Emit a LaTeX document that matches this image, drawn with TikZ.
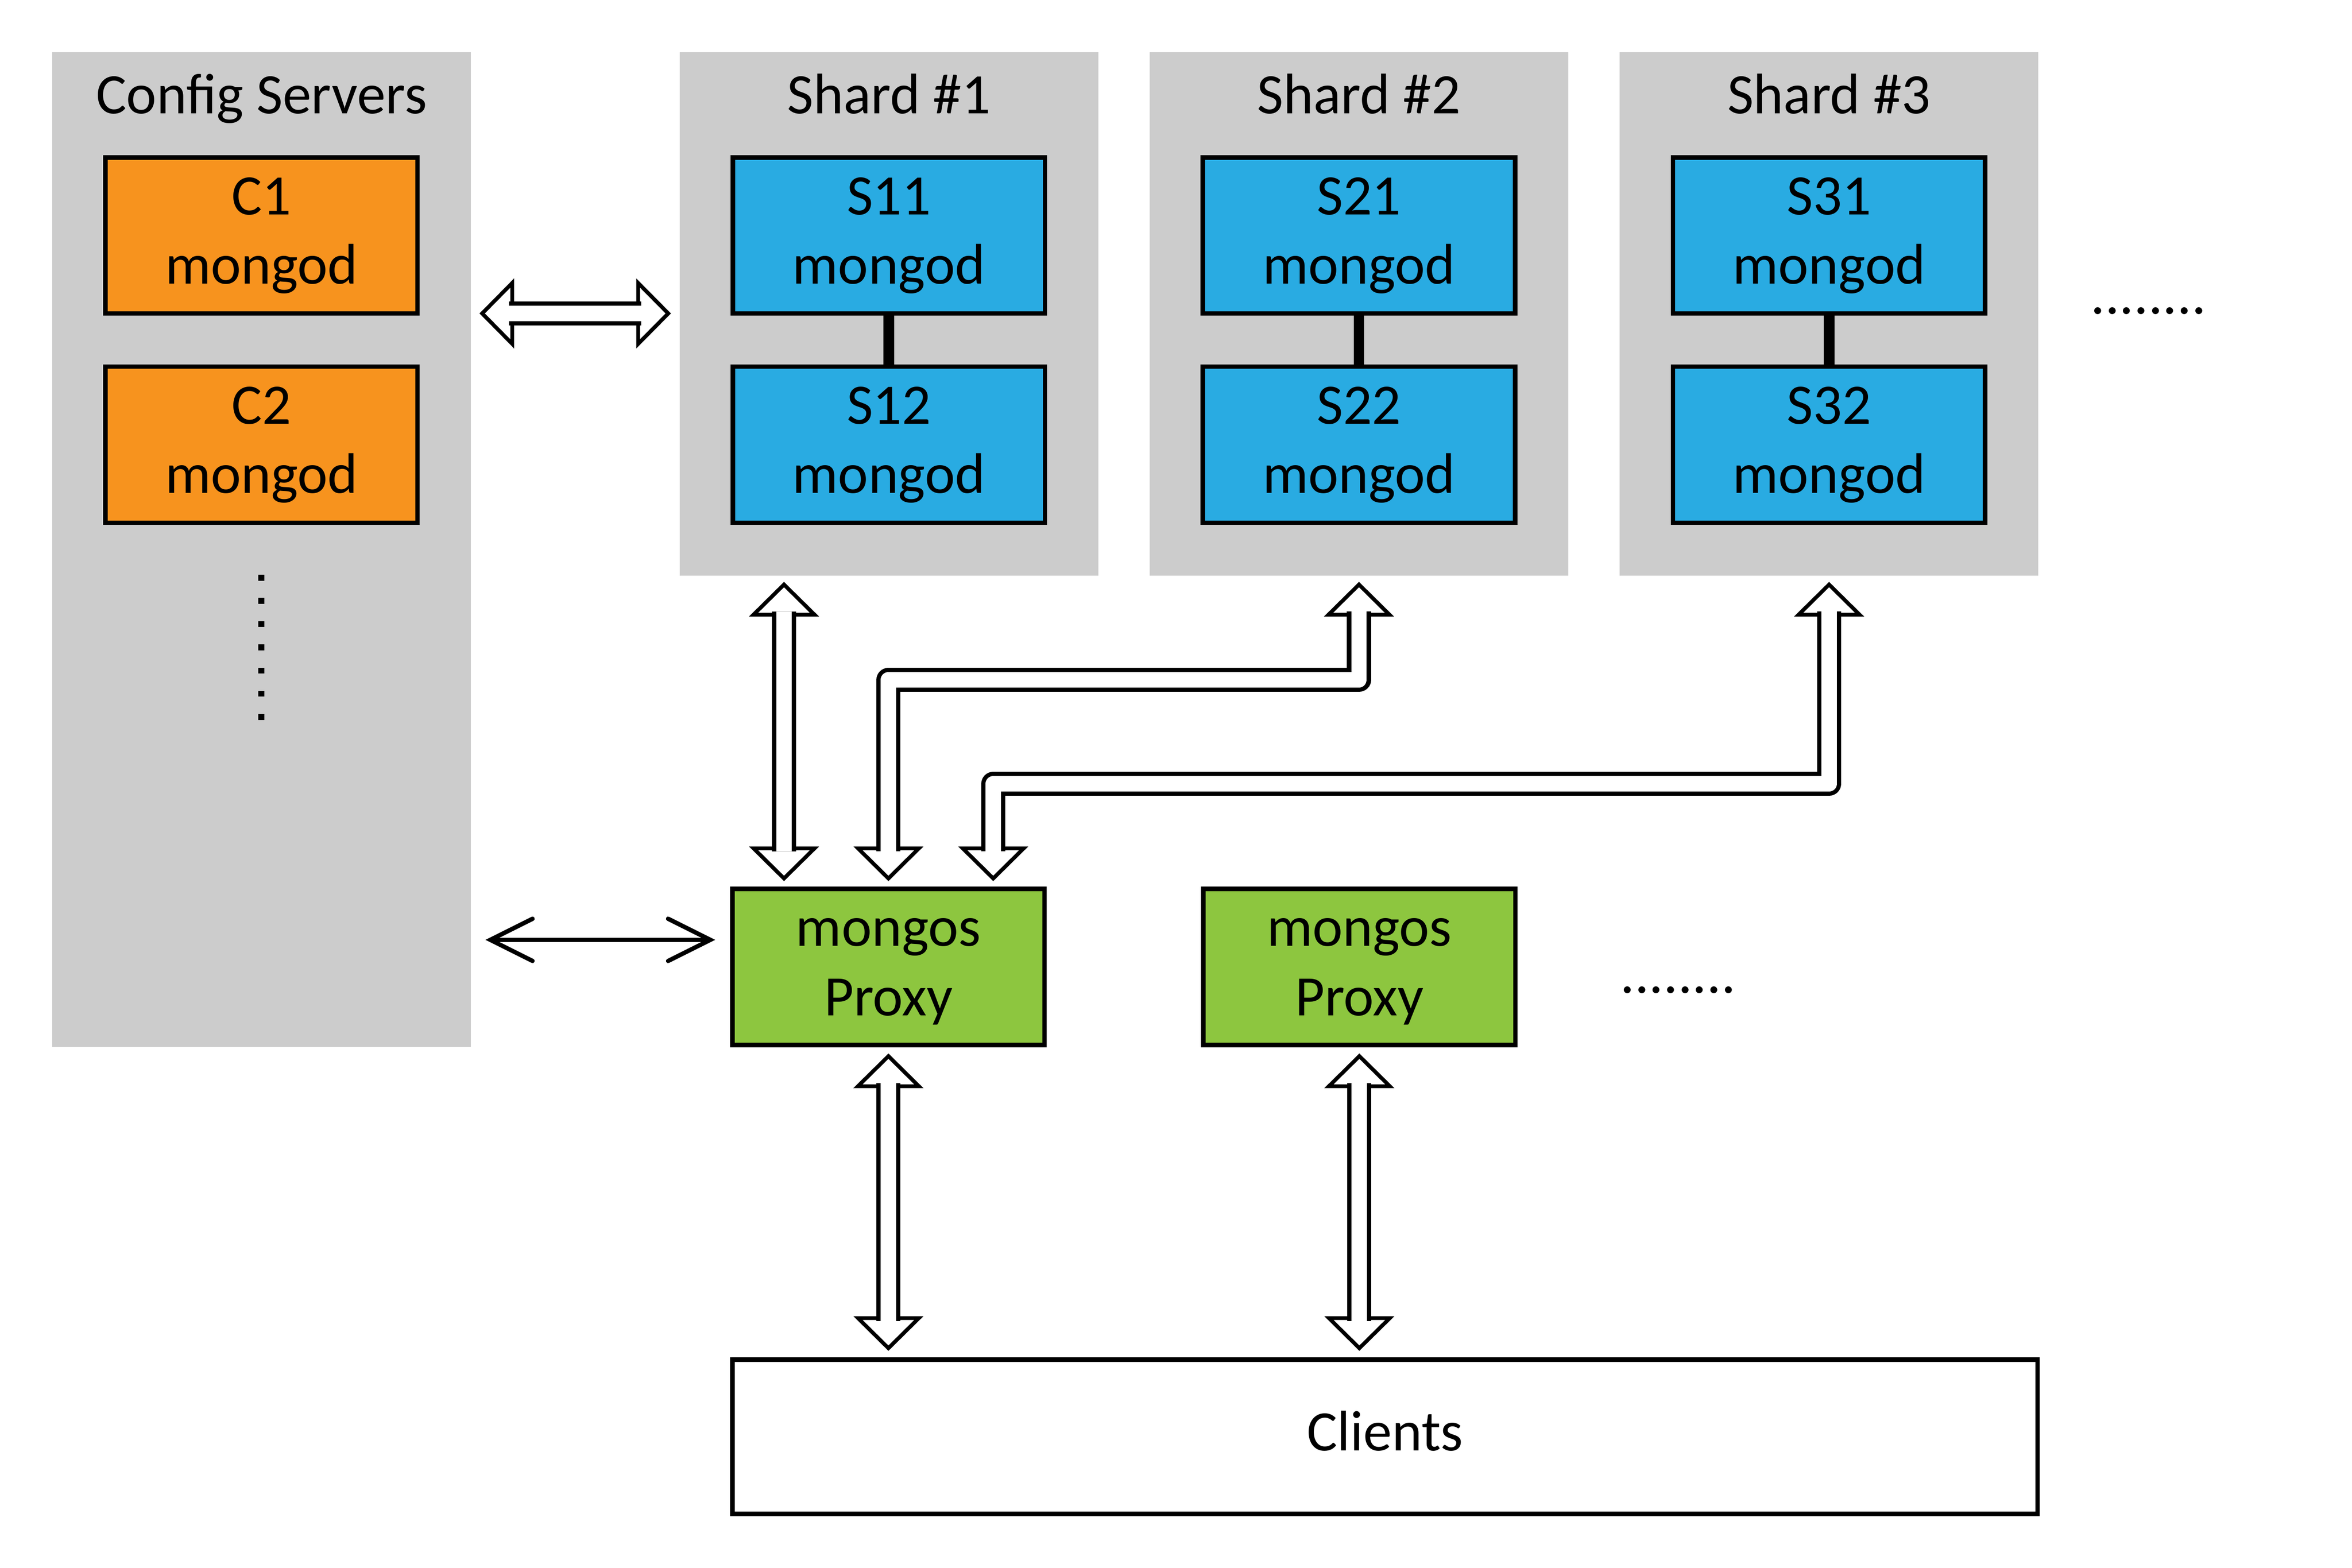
\documentclass[tikz,border=0pt]{standalone}
\usepackage{fontspec}
\setmainfont{Carlito}
\usetikzlibrary{arrows.meta}

\definecolor{boxgray}{RGB}{204,204,204}
\definecolor{cfgorange}{RGB}{247,147,30}
\definecolor{shardblue}{RGB}{41,171,226}
\definecolor{proxygreen}{RGB}{141,198,63}

\begin{document}
\begin{tikzpicture}[font=\fontsize{10.8pt}{13.1pt}\selectfont]
    % Define styles
    \tikzset{
        groupbox/.style={fill=boxgray, draw=none, minimum width=2.777cm, inner sep=0pt, outer sep=0pt},
        mongodbox/.style={draw, line width=0.85pt, minimum width=2.07cm, minimum height=1.035cm, inner sep=0pt, text width=2.0cm, align=center, execute at begin node=\strut, execute at end node=\strut},
        cfgbox/.style={mongodbox, fill=cfgorange},
        shardbox/.style={mongodbox, fill=shardblue},
        proxybox/.style={mongodbox, fill=proxygreen},
        clientbox/.style={mongodbox, fill=white, minimum width=8.657cm, minimum height=1.023cm},
        replink/.style={line width=0.7mm},
        fattip/.tip={Triangle[open, fill=white, length=2.3mm, width=4.6mm, line width=0.72pt]},
        fatarrow/.style={line width=0.1pt, fattip-fattip, postaction={draw, -, double=white, double distance=1.02mm, line width=0.82pt, line join=round, shorten <=1.97mm, shorten >=1.97mm}},
        thinarrow/.style={line width=0.82pt, {Straight Barb[length=2.8mm, width=2.8mm, line cap=round]}-{Straight Barb[length=2.8mm, width=2.8mm, line cap=round]}}
    }
    \useasboundingbox (0,0) rectangle (15.6,-10.4);

    % Config servers
    \node[groupbox, minimum height=6.599cm] (config) at (1.7345,-3.6455) {};
    \node[anchor=base] (cfgtitle) at (1.7345,-0.755) {Config Servers};
    \node[cfgbox] (c1) at (1.7345,-1.562) {C1\\mongod};
    \node[cfgbox] (c2) at (1.7345,-2.950) {C2\\mongod};
    \draw[line width=0.39mm, dash pattern=on 0.39mm off 1.15mm] (1.733,-3.813) -- (1.733,-4.776);

    % Shards
    \node[groupbox, minimum height=3.472cm] (shard1) at (5.8955,-2.082) {};
    \node[groupbox, minimum height=3.472cm] (shard2) at (9.0135,-2.082) {};
    \node[groupbox, minimum height=3.472cm] (shard3) at (12.1315,-2.082) {};
    \node[anchor=base] (sh1title) at (5.8955,-0.755) {Shard \#1};
    \node[anchor=base] (sh2title) at (9.0135,-0.755) {Shard \#2};
    \node[anchor=base] (sh3title) at (12.1315,-0.755) {Shard \#3};

    \node[shardbox] (s11) at (5.8955,-1.562) {S11\\mongod};
    \node[shardbox] (s12) at (5.8955,-2.950) {S12\\mongod};
    \node[shardbox] (s21) at (9.0135,-1.562) {S21\\mongod};
    \node[shardbox] (s22) at (9.0135,-2.950) {S22\\mongod};
    \node[shardbox] (s31) at (12.1315,-1.562) {S31\\mongod};
    \node[shardbox] (s32) at (12.1315,-2.950) {S32\\mongod};
    \draw[replink] (s11) -- (s12);
    \draw[replink] (s21) -- (s22);
    \draw[replink] (s31) -- (s32);
    \node[anchor=base] (moreshards) at (14.25,-2.084) {........};

    % Query routers
    \node[proxybox] (mongos1) at (5.8925,-6.415) {mongos\\Proxy};
    \node[proxybox] (mongos2) at (9.016,-6.415) {mongos\\Proxy};
    \node[anchor=base] (moreproxies) at (11.13,-6.589) {........};

    % Clients
    \node[clientbox] (clients) at (9.186,-9.532) {Clients};

    % Connections
    \draw[fatarrow] ([xshift=0.57mm, yshift=0.15mm]config.east |- s11.south) -- ([xshift=-0.57mm, yshift=0.15mm]shard1.west |- s11.south);
    \draw[thinarrow] ([xshift=0.97mm, yshift=1.8mm]config.east |- mongos1.west) -- ([xshift=-0.99mm, yshift=1.8mm]mongos1.west);
    \draw[fatarrow] ([xshift=-6.955mm, yshift=-0.42mm]shard1.south) -- ([xshift=-6.925mm, yshift=0.37mm]mongos1.north);
    \draw[fatarrow] ([yshift=-0.42mm]shard2.south) -- ++(0,-0.65) -| ([yshift=0.37mm]mongos1.north);
    \draw[fatarrow] ([yshift=-0.42mm]shard3.south) -- ++(0,-1.34) -| ([xshift=6.95mm, yshift=0.37mm]mongos1.north);
    \draw[fatarrow] ([yshift=-0.41mm]mongos1.south) -- ([yshift=0.44mm]mongos1.south |- clients.north);
    \draw[fatarrow] ([yshift=-0.41mm]mongos2.south) -- ([yshift=0.44mm]mongos2.south |- clients.north);

\end{tikzpicture}
\end{document}
